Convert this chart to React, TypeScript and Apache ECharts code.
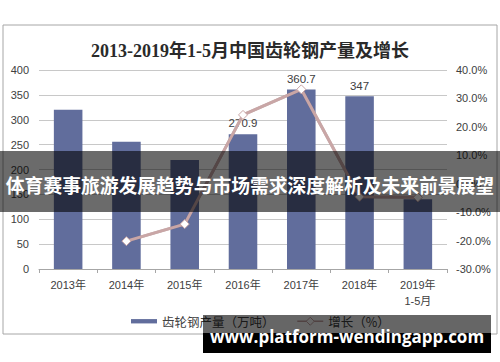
import React, { useEffect, useRef } from "react";
import * as echarts from "echarts";

// Production of gear steel in China, 2013 to Jan-May 2019
const categories = ["2013年", "2014年", "2015年", "2016年", "2017年", "2018年", "2019年\n1-5月"];
const output = [320, 256, 219, 270.9, 360.7, 347, 140];
const labelledYears = ["2016年", "2017年", "2018年"];
const growth = [null, -20.2, -14.2, 24.2, 33.2, -4.6, -4.8];

const titleText = "2013-2019年1-5月中国齿轮钢产量及增长";
const barName = "齿轮钢产量（万吨）";
const lineName = "增长（%）";
const bannerText = "体育赛事旅游发展趋势与市场需求深度解析及未来前景展望";
const siteText = "www.platform-wendingapp.com";

const latin = '"Liberation Sans", Arial, "Noto Sans CJK SC", sans-serif';
const cjk = '"Noto Sans CJK SC", "Liberation Sans", sans-serif';

export default function App() {
  const ref = useRef<HTMLDivElement>(null);

  useEffect(() => {
    if (!ref.current) return;
    const chart = echarts.init(ref.current, null, { renderer: "svg" });
    chart.setOption({
      animation: false,
      backgroundColor: "#ffffff",
      title: {
        text: titleText,
        left: "center",
        top: 37,
        textStyle: {
          fontFamily: '"Liberation Serif", "Noto Sans CJK SC", serif',
          fontWeight: "bold",
          fontSize: 18,
          color: "#2a2a2a",
        },
      },
      grid: { left: 39, right: 53, top: 70, bottom: 93, containLabel: false },
      legend: {
        left: 126,
        top: 310,
        itemGap: 22,
        itemWidth: 26,
        itemHeight: 10,
        textStyle: { fontFamily: cjk, fontSize: 12.5, color: "#404040" },
        data: [
          { name: barName, icon: "path://M0,0H24V4H0Z" },
          {
            name: lineName,
            lineStyle: { width: 1.5, shadowBlur: 0 },
            itemStyle: { borderWidth: 1 },
          },
        ],
      },
      xAxis: {
        type: "category",
        data: categories,
        axisLine: { lineStyle: { color: "#a6a6a6", width: 1 } },
        axisTick: { show: true, length: 4, alignWithLabel: false, lineStyle: { color: "#a6a6a6" } },
        axisLabel: {
          interval: 0,
          margin: 8,
          fontFamily: latin,
          fontSize: 11,
          lineHeight: 16,
          color: "#404040",
        },
      },
      yAxis: [
        {
          type: "value",
          min: 0,
          max: 400,
          interval: 50,
          axisLine: { show: false },
          axisTick: { show: false },
          axisLabel: { margin: 10, fontFamily: latin, fontSize: 11, color: "#404040" },
          splitLine: { lineStyle: { color: "#c8c8c8", width: 1 } },
        },
        {
          type: "value",
          min: -30,
          max: 40,
          interval: 10,
          axisLine: { show: false },
          axisTick: { show: false },
          splitLine: { show: false },
          axisLabel: {
            margin: 9,
            fontFamily: latin,
            fontSize: 11,
            color: "#404040",
            formatter: (v: number) => v.toFixed(1) + "%",
          },
        },
      ],
      series: [
        {
          name: barName,
          type: "bar",
          barWidth: "49%",
          itemStyle: { color: "#616d9c" },
          data: output.map((v, i) => ({
            value: v,
            label: {
              show: labelledYears.includes(categories[i]),
              position: "top",
              distance: 5,
              fontFamily: latin,
              fontSize: 11.5,
              color: "#404040",
            },
          })),
        },
        {
          name: lineName,
          type: "line",
          yAxisIndex: 1,
          data: growth,
          symbol: "diamond",
          symbolSize: 9,
          lineStyle: {
            color: "#c9a6a6",
            width: 3,
            shadowColor: "rgba(120,80,80,0.5)",
            shadowBlur: 1,
          },
          itemStyle: { color: "#ffffff", borderColor: "#c9a6a6", borderWidth: 1 },
          z: 3,
        },
      ],
      graphic: [
        {
          type: "rect",
          silent: true,
          z: 1,
          shape: { x: 3, y: 25, width: 494, height: 309 },
          style: { fill: "none", stroke: "#a6a6a6", lineWidth: 1 },
        },
        {
          type: "rect",
          silent: true,
          z: 100,
          shape: { x: 0, y: 151, width: 500, height: 61 },
          style: { fill: "rgba(0,0,0,0.58)" },
        },
        {
          type: "text",
          silent: true,
          z: 101,
          x: 250,
          y: 184,
          style: {
            text: bannerText,
            fill: "#ffffff",
            font: 'bold 18.8px "Noto Sans CJK SC", sans-serif',
            align: "center",
            verticalAlign: "middle",
          },
        },
        {
          type: "rect",
          silent: true,
          z: 100,
          shape: { x: 203, y: 315, width: 288, height: 18 },
          style: { fill: "rgba(0,0,0,0.6)" },
        },
        {
          type: "rect",
          silent: true,
          z: 100,
          shape: { x: 203, y: 333, width: 288, height: 20 },
          style: { fill: "#000000" },
        },
        {
          type: "text",
          silent: true,
          z: 101,
          x: 347,
          y: 336,
          style: {
            text: siteText,
            fill: "#ffffff",
            font: 'bold 17px "Open Sans", sans-serif',
            align: "center",
            verticalAlign: "middle",
          },
        },
      ],
    });
    return () => chart.dispose();
  }, []);

  return (
    <div
      ref={ref}
      style={{ position: "fixed", left: 0, top: 0, width: 500, height: 362 }}
    />
  );
}
